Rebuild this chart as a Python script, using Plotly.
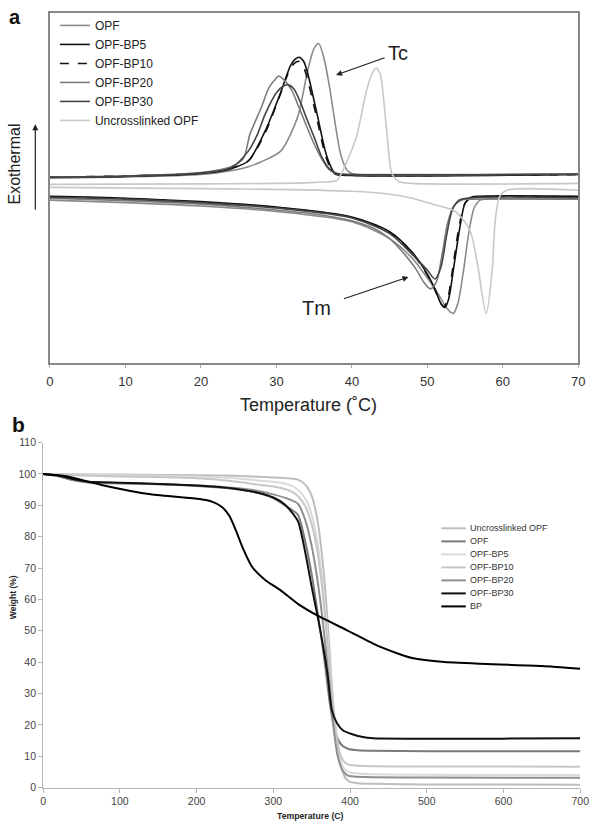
import plotly.graph_objects as go

# ---------------- Panel a : DSC (heat flow, arbitrary units, exotherm up) ----------------
dsc_names = ["OPF", "OPF-BP5", "OPF-BP10", "OPF-BP20", "OPF-BP30", "Uncrosslinked OPF"]

# cooling scans (crystallisation, Tc)
cool_T_opf = [0, 10, 20, 24, 26.3, 28, 30.6, 32.8, 33.5, 34.1, 35, 35.6, 36.3, 37.1, 37.8, 38.5, 39.3, 40, 45, 70]
cool_hf_opf = [187.5, 188.5, 191, 195, 199, 204, 215, 249, 272, 295, 319, 324, 309, 277, 242, 212, 196, 192, 191, 191]
cool_T_bp5 = [0, 10, 20, 24, 26.3, 28.5, 30.6, 31.9, 32.5, 33, 33.6, 34.1, 35.4, 36.7, 37.8, 40, 70]
cool_hf_bp5 = [188, 189, 192, 197, 205, 235, 275, 302, 308, 310, 306, 295, 252, 209, 192, 190, 191]
cool_T_bp10 = [0, 10, 20, 24, 26.3, 28.5, 30.5, 31.8, 32.4, 32.9, 33.5, 34, 35.3, 36.6, 37.7, 40, 70]
cool_hf_bp10 = [188.5, 189.5, 192.5, 197.5, 205, 233, 272, 298, 304, 306, 302, 291, 250, 208, 192, 190.5, 191]
cool_T_bp20 = [0, 10, 20, 24, 25.6, 26.5, 28, 29, 30, 30.3, 31, 32, 33, 34, 35, 36, 37, 38, 40, 70]
cool_hf_bp20 = [188.5, 189.5, 193, 199, 207, 232, 259, 279, 289, 291, 287, 277, 259, 240, 222, 207, 196, 192, 191, 191.5]
cool_T_bp30 = [0, 10, 20, 24, 26.3, 27.5, 28.5, 30, 31, 31.6, 32.3, 33.2, 34, 35, 36, 37, 38, 40, 70]
cool_hf_bp30 = [188.5, 189.5, 192.5, 198, 215, 232, 252, 274, 281, 282, 278, 264, 248, 229, 209, 197, 192, 191, 191.5]
cool_T_unc = [0, 20, 30, 35, 38, 38.4, 39.5, 40.6, 41.9, 42.6, 43.2, 43.7, 44.0, 44.7, 45.3, 46.2, 48, 70]
cool_hf_unc = [181, 181.5, 182, 183, 185, 189, 207, 229, 275, 292, 299, 294, 282, 229, 192, 184, 182, 182]

# heating scans (melting, Tm)
heat_T_opf = [0, 10, 20, 30, 40, 45, 48, 50, 51.5, 52.5, 53.4, 54, 54.8, 55.5, 56.2, 57, 58, 70]
heat_hf_opf = [165, 162.5, 159, 153.5, 143, 126, 106, 86, 69, 56, 50, 59, 94, 132, 157, 165, 166, 166]
heat_T_bp5 = [0, 10, 20, 30, 40, 45, 48, 50, 51, 51.8, 52.3, 52.8, 53.5, 54.3, 55, 55.8, 57, 70]
heat_hf_bp5 = [169, 167, 163.5, 158, 148, 133, 112, 90, 75, 60, 56, 64, 97, 137, 162, 168, 169, 169]
heat_T_bp10 = [0, 10, 20, 30, 40, 45, 48, 50, 51, 51.8, 52.2, 52.7, 53.4, 54.2, 55, 55.8, 57, 70]
heat_hf_bp10 = [168.5, 166.5, 163, 157.5, 147.5, 132.5, 111, 89, 74, 60, 57, 65, 98, 138, 162, 167.5, 168.5, 168.5]
heat_T_bp20 = [0, 10, 20, 30, 35, 40, 43, 45, 47, 48.5, 49.5, 50.4, 51.2, 52, 52.7, 53.5, 54.5, 56, 70]
heat_hf_bp20 = [167, 164.5, 161, 155, 151, 144, 136, 126, 110, 95, 82, 75, 82, 112, 142, 159, 165, 166, 166]
heat_T_bp30 = [0, 10, 20, 30, 40, 45, 48, 50, 51, 51.8, 52.5, 53.3, 54.2, 56, 70]
heat_hf_bp30 = [168, 166, 162.5, 157, 147, 131, 110, 94, 85, 97, 127, 155, 165, 167.5, 167.5]
heat_T_unc = [0, 24, 40, 45, 48, 51.1, 53.6, 55.6, 56.6, 57.8, 58.6, 59, 59.6, 60.5, 70]
heat_hf_unc = [178, 176.5, 174, 171, 167, 160, 154, 135, 102, 50, 95, 145, 169, 175, 175]

dsc_ticks = [0, 10, 20, 30, 40, 50, 60, 70]

# ---------------- Panel b : TGA ----------------
tga_names = ["Uncrosslinked OPF", "OPF", "OPF-BP5", "OPF-BP10", "OPF-BP20", "OPF-BP30", "BP"]
tga_T_unc = [0, 50, 100, 150, 200, 250, 280, 300, 320, 332, 342, 350, 357, 363, 368, 373, 377, 382, 388, 394, 400, 410, 430, 500, 600, 700]
tga_W_unc = [100, 99.9, 99.8, 99.7, 99.6, 99.4, 99.1, 98.9, 98.6, 98.2, 96.5, 93, 86, 75, 62, 45, 30, 17, 7, 3, 1.8, 1.4, 1.2, 1.0, 1.0, 0.9]
tga_T_opf = [0, 20, 40, 60, 100, 150, 200, 250, 280, 300, 315, 332, 342, 350, 357, 363, 368, 373, 378, 384, 390, 398, 410, 430, 500, 600, 700]
tga_W_opf = [100, 99.3, 98, 97.3, 97, 96.7, 96.2, 95.2, 94, 92.3, 90, 87, 78, 68, 57, 47, 38, 28, 20.5, 15.5, 13.3, 12.3, 11.9, 11.7, 11.6, 11.6, 11.6]
tga_T_bp5 = [0, 50, 100, 150, 200, 250, 280, 300, 320, 332, 342, 350, 357, 363, 368, 373, 377, 382, 388, 394, 400, 420, 500, 600, 700]
tga_W_bp5 = [100, 99.8, 99.6, 99.4, 99.2, 98.6, 97.9, 97.5, 96.6, 95, 92, 87, 79, 68, 56, 41, 29, 17, 8.5, 5.5, 4.8, 4.3, 4.1, 4, 4]
tga_T_bp10 = [0, 20, 50, 100, 150, 200, 250, 280, 300, 320, 332, 342, 350, 357, 363, 368, 373, 377, 382, 388, 394, 400, 420, 500, 600, 700]
tga_W_bp10 = [100, 99.8, 99.5, 99.2, 99, 98.6, 97.6, 96.6, 96, 94.8, 93, 89.5, 84, 76, 65, 53, 39, 28, 17, 10, 7.8, 7.2, 6.9, 6.7, 6.7, 6.6]
tga_T_bp20 = [0, 20, 40, 60, 100, 150, 200, 250, 280, 300, 320, 332, 342, 350, 357, 363, 368, 373, 378, 384, 390, 396, 405, 430, 500, 700]
tga_W_bp20 = [100, 99.3, 98, 97.3, 97.1, 96.8, 96.3, 95.5, 94.6, 93.5, 92, 90.5, 85, 77, 67, 56, 45, 33, 20, 10, 5.5, 4, 3.5, 3.3, 3.2, 3.1]
tga_T_bp30 = [0, 20, 40, 60, 100, 150, 200, 250, 280, 300, 315, 332, 342, 350, 359, 365, 371, 376, 383, 391, 403, 415, 430, 500, 600, 700]
tga_W_bp30 = [100, 99.5, 98.3, 97.5, 97.2, 96.8, 96.3, 95.3, 94, 92.5, 90.3, 85, 74.5, 64, 53, 45, 35.5, 25, 20.5, 18.2, 17, 16.2, 15.7, 15.6, 15.6, 15.7]
tga_T_bp = [0, 30, 76, 140, 204, 220, 233, 243, 252, 260, 272, 289, 310, 332, 361, 395, 438, 481, 523, 587, 650, 700]
tga_W_bp = [100, 99.3, 96.5, 93.5, 92.0, 91.2, 89.5, 86.5, 81.5, 76.5, 70.5, 66.3, 62.8, 58.6, 54.4, 50.3, 45.0, 41.3, 40.0, 39.3, 38.8, 37.9]

tga_xticks = [0, 100, 200, 300, 400, 500, 600, 700]
tga_yticks = [0, 10, 20, 30, 40, 50, 60, 70, 80, 90, 100, 110]

# ---------------- figure ----------------
W, H = 601, 832
FONT = "Arial, 'Liberation Sans', sans-serif"


def fx(p):
    return p / W


def fy(p):
    return 1 - p / H


fig = go.Figure()

dsc_styles = [
    dict(color="#8a8a8a", width=1.6),
    dict(color="#111111", width=1.6),
    dict(color="#111111", width=1.6, dash="dash"),
    dict(color="#7c7c7c", width=1.6),
    dict(color="#444444", width=1.6),
    dict(color="#c8c8c8", width=1.6),
]
cool = [(cool_T_opf, cool_hf_opf), (cool_T_bp5, cool_hf_bp5), (cool_T_bp10, cool_hf_bp10),
        (cool_T_bp20, cool_hf_bp20), (cool_T_bp30, cool_hf_bp30), (cool_T_unc, cool_hf_unc)]
heat = [(heat_T_opf, heat_hf_opf), (heat_T_bp5, heat_hf_bp5), (heat_T_bp10, heat_hf_bp10),
        (heat_T_bp20, heat_hf_bp20), (heat_T_bp30, heat_hf_bp30), (heat_T_unc, heat_hf_unc)]

for name, st, (ct, ch), (ht, hh) in zip(dsc_names, dsc_styles, cool, heat):
    fig.add_trace(go.Scatter(x=ct, y=ch, mode="lines", name=name, legendgroup=name,
                             line=dict(shape="spline", smoothing=0.8, **st),
                             xaxis="x", yaxis="y", legend="legend"))
    fig.add_trace(go.Scatter(x=ht, y=hh, mode="lines", name=name, legendgroup=name, showlegend=False,
                             line=dict(shape="spline", smoothing=0.8, **st),
                             xaxis="x", yaxis="y"))

tga_colors = ["#bdbdbd", "#7a7a7a", "#dadada", "#c6c6c6", "#8e8e8e", "#111111", "#000000"]
tga = [(tga_T_unc, tga_W_unc), (tga_T_opf, tga_W_opf), (tga_T_bp5, tga_W_bp5), (tga_T_bp10, tga_W_bp10),
       (tga_T_bp20, tga_W_bp20), (tga_T_bp30, tga_W_bp30), (tga_T_bp, tga_W_bp)]
for name, col, (t, w) in zip(tga_names, tga_colors, tga):
    fig.add_trace(go.Scatter(x=t, y=w, mode="lines", name=name, showlegend=False,
                             line=dict(color=col, width=2, shape="spline", smoothing=0.6),
                             xaxis="x2", yaxis="y2"))

annotations = [
    dict(text="<b>a</b>", x=fx(11), y=fy(11), xref="paper", yref="paper", showarrow=False,
         xanchor="center", yanchor="middle", font=dict(size=20, color="#111")),
    dict(text="<b>b</b>", x=fx(15), y=fy(425), xref="paper", yref="paper", showarrow=False,
         xanchor="center", yanchor="middle", font=dict(size=21, color="#111")),
    dict(text="Exothermal", x=fx(11), y=fy(160), xref="paper", yref="paper", showarrow=False,
         textangle=-90, xanchor="center", yanchor="middle", font=dict(size=16, color="#222")),
    dict(text="", x=fx(32), y=fy(120), xref="paper", yref="paper", ax=0, ay=87,
         showarrow=True, arrowhead=2, arrowsize=1, arrowwidth=1.2, arrowcolor="#222"),
    dict(text="Tc", x=37.9, y=292, xref="x", yref="y", ax=62, ay=-22, showarrow=True,
         arrowhead=2, arrowsize=1, arrowwidth=1.2, arrowcolor="#222", startstandoff=2,
         font=dict(size=20, color="#222")),
    dict(text="Tm", x=47.5, y=87, xref="x", yref="y", ax=-92, ay=31, showarrow=True,
         arrowhead=2, arrowsize=1, arrowwidth=1.2, arrowcolor="#222", startstandoff=12,
         font=dict(size=20, color="#222")),
    dict(text="Temperature (˚C)", x=fx(311), y=fy(405), xref="paper", yref="paper", showarrow=False,
         xanchor="center", yanchor="middle", font=dict(size=18, color="#222")),
    dict(text="<b>Temperature (C)</b>", x=fx(313), y=fy(822), xref="paper", yref="paper", showarrow=False,
         xanchor="center", yanchor="middle", font=dict(size=8.7, color="#222")),
    dict(text="<b>Weight (%)</b>", x=fx(10), y=fy(600), xref="paper", yref="paper", showarrow=False,
         textangle=-90, xanchor="center", yanchor="middle", font=dict(size=8.5, color="#222")),
]

# manual compact legend for panel b
shapes = []
for i, (name, col) in enumerate(zip(tga_names, tga_colors)):
    yc = 530 + i * 13.2
    shapes.append(dict(type="line", xref="paper", yref="paper", x0=fx(447), x1=fx(472),
                       y0=fy(yc), y1=fy(yc), line=dict(color=col, width=2)))
    annotations.append(dict(text=name, x=fx(474), y=fy(yc), xref="paper", yref="paper", showarrow=False,
                            xanchor="left", yanchor="middle", font=dict(size=9, color="#333")))

fig.update_layout(
    width=W, height=H, margin=dict(l=0, r=0, t=0, b=0),
    paper_bgcolor="white", plot_bgcolor="white",
    font=dict(family=FONT, color="#333"),
    showlegend=True,
    legend=dict(x=fx(52), y=fy(5), xanchor="left", yanchor="top", bgcolor="rgba(0,0,0,0)",
                font=dict(size=12, color="#222"), tracegroupgap=0, borderwidth=0),
    xaxis=dict(domain=[fx(47), fx(587)], range=[0, 70], tickvals=dsc_ticks, anchor="y",
               showline=True, mirror=True, linecolor="#888", linewidth=1.5,
               ticks="outside", ticklen=3, tickcolor="#aaa", ticklabelstandoff=3,
               showgrid=False, zeroline=False, tickfont=dict(size=13, color="#333")),
    yaxis=dict(domain=[fy(362), fy(7)], range=[0, 355], anchor="x",
               showline=True, mirror=True, linecolor="#888", linewidth=1.5,
               showticklabels=False, ticks="", showgrid=False, zeroline=False),
    xaxis2=dict(domain=[fx(40), fx(589)], range=[0, 700], tickvals=tga_xticks, anchor="y2",
                showline=True, linecolor="#b5b5b5", linewidth=1,
                ticks="outside", ticklen=4, tickcolor="#b5b5b5",
                showgrid=False, zeroline=False, tickfont=dict(size=10.5, color="#444")),
    yaxis2=dict(domain=[fy(793), fy(443)], range=[0, 110], tickvals=tga_yticks, anchor="x2",
                showline=True, linecolor="#b5b5b5", linewidth=1,
                ticks="outside", ticklen=4, tickcolor="#b5b5b5",
                showgrid=False, zeroline=False, tickfont=dict(size=10.5, color="#444")),
    annotations=annotations,
    shapes=shapes,
)

fig.write_html(
    "out.html",
    config={"displayModeBar": False},
    post_script="document.body.style.margin='0';document.body.style.padding='0';"
                "document.body.style.overflow='hidden';",
)
